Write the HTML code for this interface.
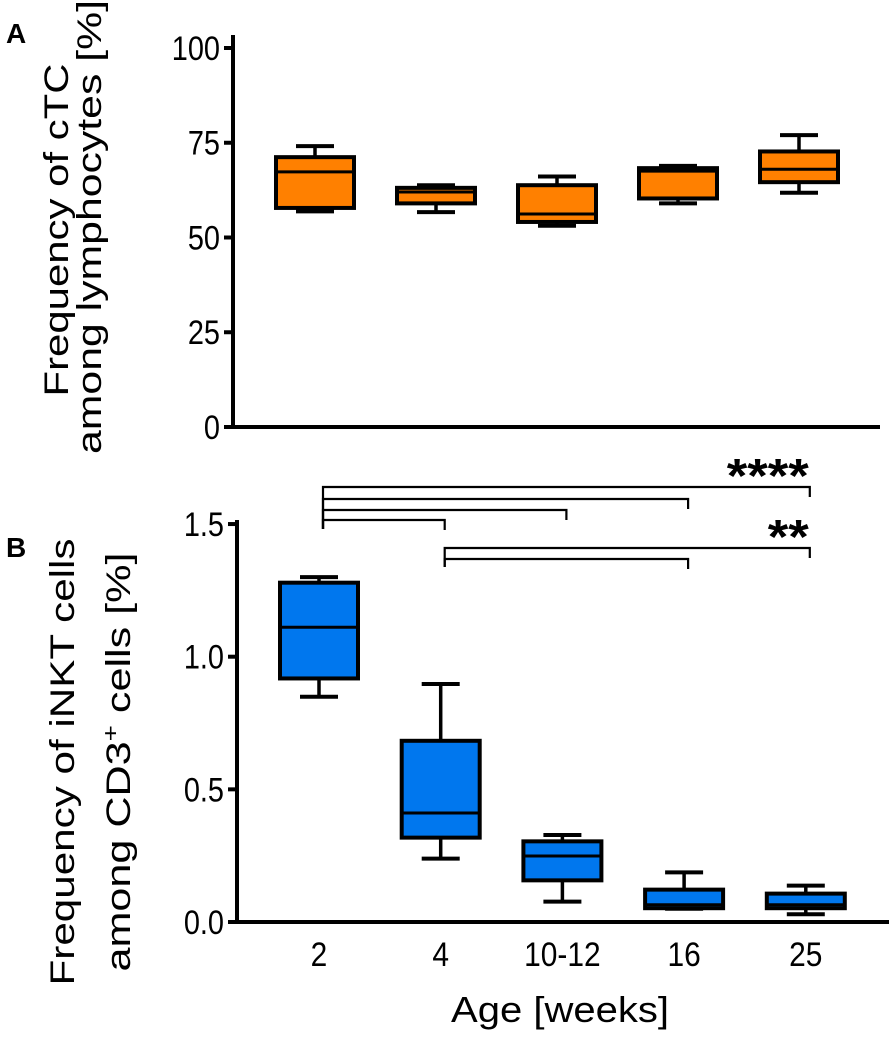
<!DOCTYPE html>
<html><head><meta charset="utf-8"><style>
html,body{margin:0;padding:0;background:#fff;}
svg{display:block;font-family:"Liberation Sans",Arial,sans-serif;}
</style></head><body>
<svg id="fig" width="895" height="1037" viewBox="0 0 895 1037">
<text x="6" y="43" font-size="28" font-weight="bold">A</text>
<text x="6" y="557" font-size="28" font-weight="bold">B</text>
<text transform="translate(68,230) rotate(-90)" text-anchor="middle" font-size="34" textLength="333" lengthAdjust="spacingAndGlyphs">Frequency of cTC</text>
<text transform="translate(101,227) rotate(-90)" text-anchor="middle" font-size="34" textLength="454" lengthAdjust="spacingAndGlyphs">among lymphocytes [%]</text>
<text transform="translate(74,762) rotate(-90)" text-anchor="middle" font-size="34" textLength="447" lengthAdjust="spacingAndGlyphs">Frequency of iNKT cells</text>
<text transform="translate(130,762) rotate(-90)" text-anchor="middle" font-size="34" textLength="419" lengthAdjust="spacingAndGlyphs">among CD3<tspan dy="-12" font-size="22">+</tspan><tspan dy="12"> cells [%]</tspan></text>
<text x="560" y="1022" text-anchor="middle" font-size="36" textLength="218" lengthAdjust="spacingAndGlyphs">Age [weeks]</text>
<g id="gA"></g>
<g id="gB"></g>
</svg>
<script>
const categories = ["2","4","10-12","16","25"];
const aMin = [56.9,56.7,53.1,59,61.8];
const aQ1 = [57.8,59,54.1,60.3,64.6];
const aMed = [67.3,62,56.2,67.5,68];
const aQ3 = [71.2,63.1,63.8,68.3,72.7];
const aMax = [74.1,63.8,66.1,68.9,77];
const aTicks = [0,25,50,75,100];
const bMin = [0.849,0.239,0.077,0.05,0.029];
const bQ1 = [0.918,0.318,0.157,0.052,0.052];
const bMed = [1.111,0.411,0.249,0.065,0.065];
const bQ3 = [1.279,0.683,0.304,0.122,0.107];
const bMax = [1.30,0.897,0.328,0.187,0.137];
const bTicks = [0.0,0.5,1.0,1.5];
const bTickLabels = ["0.0","0.5","1.0","1.5"];
const sigFrom = [0,0,0,0,1,1];
const sigTo = [4,3,2,1,4,3];
const sigLabel = ["****","","","","**",""];

const NS="http://www.w3.org/2000/svg";
function mk(p,tag,attrs){const e=document.createElementNS(NS,tag);for(const k in attrs)e.setAttribute(k,attrs[k]);p.appendChild(e);return e;}
const xA = i => 315 + i*121;
const xB = i => 319 + i*121.7;
const yA = v => 427 - v*3.79;
const yB = v => 922 - v*265.3;
const gA=document.getElementById('gA'), gB=document.getElementById('gB');

function drawPanel(g,axisX,axisY0,axisTop,xEnd,ticks,labels,ys,xs,mins,q1s,meds,q3s,maxs,fill,hw,wh,pfx){
  let l=mk(g,'line',{x1:axisX,y1:axisTop,x2:axisX,y2:axisY0+2,stroke:'#000','stroke-width':4});
  
  
  l=mk(g,'line',{x1:axisX-2,y1:axisY0,x2:xEnd,y2:axisY0,stroke:'#000','stroke-width':4});
  
  
  ticks.forEach((t,i)=>{
    const y=ys(t);
    const tk=mk(g,'line',{x1:axisX-9,y1:y,x2:axisX,y2:y,stroke:'#000','stroke-width':4});
    
    
    const tx=mk(g,'text',{x:axisX-13,y:y+12,'text-anchor':'end','font-size':34});
    tx.setAttribute('transform','translate('+(axisX-13)+',0) scale(0.85,1) translate('+(-(axisX-13))+',0)');
    tx.textContent=labels[i];
    
    
  });
  categories.forEach((c,i)=>{
    const cx=xs(i);
    const bg=mk(g,'g',{});
    
    
    mk(bg,'line',{x1:cx,y1:ys(maxs[i]),x2:cx,y2:ys(q3s[i]),stroke:'#000','stroke-width':3.5});
    mk(bg,'line',{x1:cx,y1:ys(q1s[i]),x2:cx,y2:ys(mins[i]),stroke:'#000','stroke-width':3.5});
    mk(bg,'line',{x1:cx-wh,y1:ys(maxs[i]),x2:cx+wh,y2:ys(maxs[i]),stroke:'#000','stroke-width':4});
    mk(bg,'line',{x1:cx-wh,y1:ys(mins[i]),x2:cx+wh,y2:ys(mins[i]),stroke:'#000','stroke-width':4});
    mk(bg,'rect',{x:cx-hw,y:ys(q3s[i]),width:2*hw,height:ys(q1s[i])-ys(q3s[i]),fill:fill,stroke:'#000','stroke-width':4});
    mk(bg,'line',{x1:cx-hw,y1:ys(meds[i]),x2:cx+hw,y2:ys(meds[i]),stroke:'#000','stroke-width':3});
  });
}
drawPanel(gA,233,427,35,880,aTicks,aTicks.map(String),yA,xA,aMin,aQ1,aMed,aQ3,aMax,'#ff8000',39,19,'panel-a');
drawPanel(gB,237,922,520,889,bTicks,bTickLabels,yB,xB,bMin,bQ1,bMed,bQ3,bMax,'#0077ee',39,19,'panel-b');

categories.forEach((c,i)=>{
  const t=mk(gB,'text',{x:xB(i),y:966,'text-anchor':'middle','font-size':34});
  t.setAttribute('transform','translate('+xB(i)+',0) scale(0.88,1) translate('+(-xB(i))+',0)');
  t.textContent=c;
  
  
});

const bracketY=[487,499,510,520,548,559];
const leftDrop=[529,529,529,529,567,567];
sigFrom.forEach((f,k)=>{
  const x1=xB(f)+4, x2=xB(sigTo[k])+4, y=bracketY[k];
  const p=mk(gB,'path',{d:'M'+x1+','+leftDrop[k]+' V'+y+' H'+x2+' v10',fill:'none',stroke:'#000','stroke-width':2.2});
  
  
  if(sigLabel[k]){
    const w = sigLabel[k].length*20.5;
    const t=mk(gB,'text',{x:x2-w-1,y:y+5,'font-size':48,'font-weight':'bold',textLength:w,lengthAdjust:'spacingAndGlyphs'});
    t.textContent=sigLabel[k];
    
    
  }
});
</script>
</body></html>
